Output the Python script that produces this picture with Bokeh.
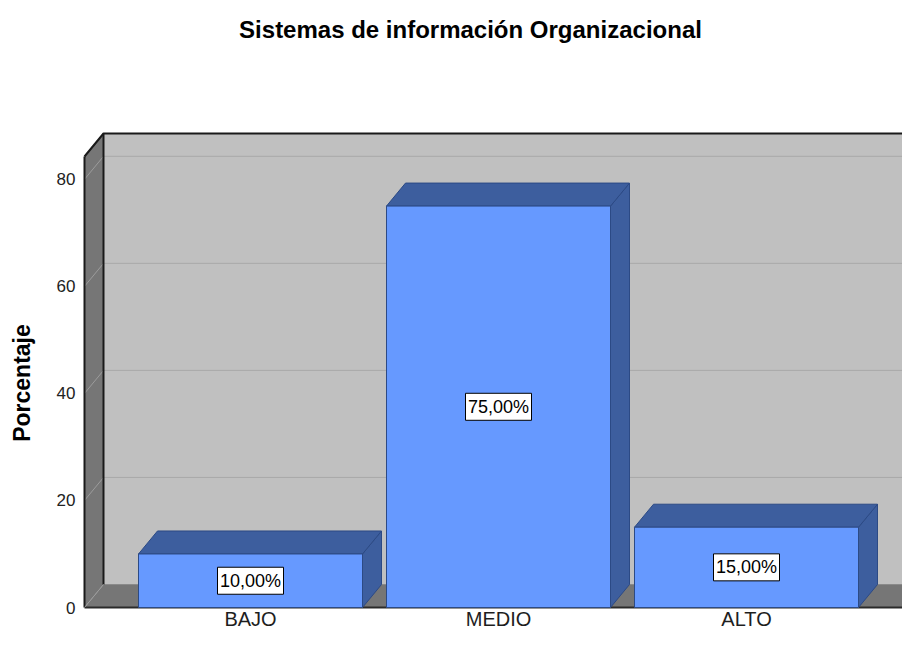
import math
from bokeh.plotting import figure
from bokeh.models import Range1d, FixedTicker, ColumnDataSource
from bokeh.core.properties import value
from bokeh.embed import file_html
from bokeh.resources import INLINE

# ---- data ----
categories = ["BAJO", "MEDIO", "ALTO"]
percentages = [10.0, 75.0, 15.0]
value_labels = ["10,00%", "75,00%", "15,00%"]
y_ticks = [0, 20, 40, 60, 80]
chart_title = "Sistemas de información Organizacional"
y_title = "Porcentaje"

# ---- geometry / style (pixel layout of the picture) ----
FONT = "Liberation Sans"
PX_X = 248.0                  # pixels per category step
X0_PX, Y0_PX = 250.0, 607.0   # pixel of (x=0, y=0)
TOP_PX = 133.0                # pixel of the top edge of the back wall
DY_PX, DX_PX = 23.0, 19.0     # 3D depth offset in pixels
PX_Y = (Y0_PX - TOP_PX) / 88.56   # pixels per percent


def to_x(px):
    return (px - X0_PX) / PX_X


def to_y(py):
    return (Y0_PX - py) / PX_Y


BAR_W = 224 / PX_X
DX = DX_PX / PX_X
DY = DY_PX / PX_Y
X_LO, X_HI = to_x(84), to_x(912)
WALL_TOP = to_y(TOP_PX) - DY

FRONT = "#6699FF"
SHADE = "#3D5E9E"
EDGE = "#2C4A85"
BACK = "#C0C0C0"
SIDE = "#767676"

W, H = 902, 631
p = figure(width=W, height=H, output_backend="svg", toolbar_location=None,
           x_axis_location=None,
           x_range=Range1d(to_x(0), to_x(W)), y_range=Range1d(to_y(H), to_y(0)),
           min_border=0, min_border_left=0, min_border_right=0,
           min_border_top=0, min_border_bottom=0)
p.outline_line_color = None
p.xgrid.visible = False
p.ygrid.visible = False
p.background_fill_color = "white"
p.border_fill_color = "white"

# back wall
p.quad(left=[X_LO + DX], right=[X_HI + DX], bottom=[DY], top=[WALL_TOP + DY],
       fill_color=BACK, line_color=None)
grid_vals = y_ticks[1:]
p.segment(x0=[X_LO + DX] * len(grid_vals), y0=[t + DY for t in grid_vals],
          x1=[X_HI + DX] * len(grid_vals), y1=[t + DY for t in grid_vals],
          line_color="#A9A9A9", line_width=1)

# left wall
p.patch(x=[X_LO, X_LO + DX, X_LO + DX, X_LO], y=[0, DY, WALL_TOP + DY, WALL_TOP],
        fill_color=SIDE, line_color=None)
p.segment(x0=[X_LO] * len(grid_vals), y0=grid_vals,
          x1=[X_LO + DX] * len(grid_vals), y1=[t + DY for t in grid_vals],
          line_color="#9C9C9C", line_width=1)

# floor
p.patch(x=[X_LO, X_HI, X_HI + DX, X_LO + DX], y=[0, 0, DY, DY],
        fill_color=SIDE, line_color=None)
p.line(x=[X_LO + DX, X_HI + DX], y=[DY, DY], line_color="#8A8A8A", line_width=1)

# wall outlines
p.line(x=[X_LO, X_LO + DX, X_HI + DX], y=[WALL_TOP, WALL_TOP + DY, WALL_TOP + DY],
       line_color="#1A1A1A", line_width=2)
p.line(x=[X_LO + DX, X_LO + DX], y=[DY, WALL_TOP + DY], line_color="#1A1A1A", line_width=2)
p.line(x=[X_LO, X_LO], y=[0, WALL_TOP], line_color="#1A1A1A", line_width=2)
p.line(x=[X_LO, X_HI, X_HI + DX], y=[0, 0, DY], line_color="#2A2A2A", line_width=2)
p.line(x=[X_LO, X_LO + DX], y=[0, DY], line_color="#9C9C9C", line_width=1)

# bars
xs = list(range(len(categories)))
side_x, side_y, top_x, top_y = [], [], [], []
for i, v in zip(xs, percentages):
    l, r = i - BAR_W / 2, i + BAR_W / 2
    side_x.append([r, r + DX, r + DX, r])
    side_y.append([0, DY, v + DY, v])
    top_x.append([l, r, r + DX, l + DX])
    top_y.append([v, v, v + DY, v + DY])
p.patches(xs=side_x, ys=side_y, fill_color=SHADE, line_color=EDGE, line_width=1)
p.patches(xs=top_x, ys=top_y, fill_color=SHADE, line_color=EDGE, line_width=1)
p.vbar(x=xs, width=BAR_W, bottom=0, top=percentages, fill_color=FRONT,
       line_color=EDGE, line_width=1)

# value labels (boxed)
src = ColumnDataSource(dict(x=xs, y=[v / 2 for v in percentages], t=value_labels))
p.rect(x="x", y="y", width=66, height=27, width_units="screen", height_units="screen",
       fill_color="white", line_color="black", line_width=1, source=src)
p.text(x="x", y="y", text="t", source=src, text_align="center", text_baseline="middle",
       text_font=value(FONT), text_font_size=value("18px"), text_color="black")

# category labels (kept inside the picture's lower edge)
cat_src = ColumnDataSource(dict(x=xs, y=[to_y(618.5)] * len(xs), t=categories))
p.text(x="x", y="y", text="t", source=cat_src, text_align="center",
       text_baseline="middle", text_font=value(FONT),
       text_font_size=value("20px"), text_color="#1E1E1E")

# y axis, drawn at the front-left edge of the box
p.yaxis.fixed_location = X_LO
p.yaxis.ticker = FixedTicker(ticks=y_ticks)
p.yaxis.axis_line_color = None
p.yaxis.major_tick_line_color = None
p.yaxis.minor_tick_line_color = None
p.yaxis.major_tick_out = 0
p.yaxis.major_tick_in = 0
p.yaxis.major_label_standoff = 9
p.yaxis.major_label_text_font = FONT
p.yaxis.major_label_text_font_size = "17px"
p.yaxis.major_label_text_color = "#222222"

# titles
p.text(x=[to_x(470)], y=[to_y(29)], text=[chart_title], text_align="center",
       text_baseline="middle", text_font=value(FONT), text_font_size=value("24px"),
       text_font_style="bold", text_color="black")
p.text(x=[to_x(21)], y=[to_y(382.5)], text=[y_title], angle=math.pi / 2,
       text_align="center", text_baseline="middle", text_font=value(FONT),
       text_font_size=value("23px"), text_font_style="bold", text_color="black")

open("out.html", "w").write(file_html(p, INLINE))
